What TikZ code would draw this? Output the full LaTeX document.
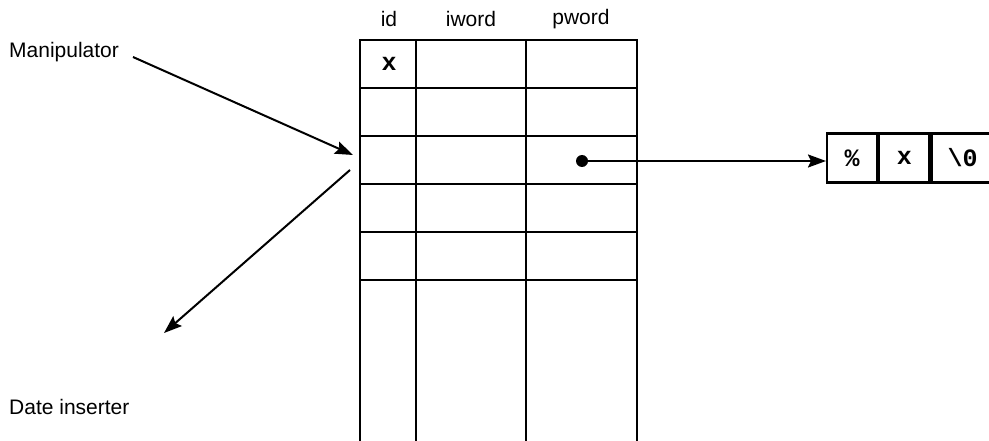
\documentclass[tikz,border=0pt]{standalone}
\usepackage{fontspec}
\setmainfont{Liberation Sans}
\newfontfamily\monob{Liberation Mono}[BoldFont={* Bold}]
\usetikzlibrary{arrows.meta}
\begin{document}
\begin{tikzpicture}[x=1pt,y=-1pt,
  grid/.style={line width=2.2pt},
  lbl/.style={font=\fontsize{21}{24}\selectfont, inner sep=0pt},
  monofont/.style={font=\monob\bfseries\fontsize{25}{26}\selectfont},
  conn/.style={line width=2pt, -{Stealth[length=18pt,width=13pt,inset=3pt]}},
  cell/.style={draw, line width=2.2pt, minimum height=49pt, inner sep=0pt, anchor=west, monofont}
]
\useasboundingbox (0,0) rectangle (989,441);
% column headers
\node[lbl] (hid) at (389,19) {id};
\node[lbl] (hiw) at (471,19) {iword};
\node[lbl] (hpw) at (581,19) {pword};
% table grid
\draw[grid] (360,441) -- (360,40) -- (637,40) -- (637,441);
\draw[grid] (416,40) -- (416,441);
\draw[grid] (526,40) -- (526,441);
\foreach \yy in {88,136,184,232,280} \draw[grid] (360,\yy) -- (637,\yy);
\node[monofont, inner sep=0pt] (x1) at (389,64) {x};
% pointer
\node[circle, fill, inner sep=0pt, minimum size=12pt] (dot) at (582,161) {};
% string array
\node[cell, minimum width=50pt] (c1) at (826,158) {\%};
\node[cell, minimum width=50pt] (c2) at (c1.east) {x};
\node[cell, minimum width=62pt] (c3) at (c2.east) {\textbackslash 0};
\draw[conn] (dot.center) -- (c1.west |- dot.center);
% labels and arrows
\node[lbl, anchor=west] (man) at (9,52) {Manipulator};
\node[lbl, anchor=west] (date) at (9,407) {Date inserter};
\coordinate (mstart) at (133,57);
\coordinate (mend) at (353,155);
\coordinate (dstart) at (350,170);
\coordinate (dend) at (164,333);
\draw[conn] (mstart) -- (mend);
\draw[conn] (dstart) -- (dend);
\end{tikzpicture}
\end{document}
